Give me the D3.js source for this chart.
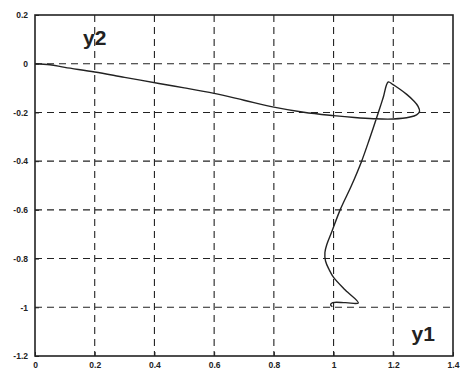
<!DOCTYPE html>
<html><head><meta charset="utf-8">
<script src="https://cdn.jsdelivr.net/npm/d3@7"></script>
<style>html,body{margin:0;padding:0;background:#fff;}svg{display:block;}</style>
</head><body>
<svg id="chart" width="460" height="370"></svg>
<script>
// Trajectory (y1 horizontal, y2 vertical)
const y1Vals = [0, 0.05, 0.1, 0.2, 0.3, 0.42, 0.5, 0.6, 0.7, 0.8, 0.9, 1.0, 1.07, 1.133, 1.2, 1.256, 1.278, 1.288, 1.283, 1.268, 1.245, 1.22, 1.198, 1.183, 1.166, 1.15, 1.12, 1.094, 1.06, 1.022, 0.994, 0.978, 0.971, 0.973, 0.985, 1.0, 1.04, 1.083, 1.04, 0.997, 0.99, 0.996];
const y2Vals = [0, -0.004, -0.015, -0.034, -0.056, -0.082, -0.099, -0.122, -0.15, -0.178, -0.199, -0.213, -0.221, -0.226, -0.227, -0.219, -0.21, -0.196, -0.175, -0.152, -0.126, -0.103, -0.085, -0.075, -0.14, -0.2, -0.31, -0.4, -0.5, -0.6, -0.69, -0.74, -0.775, -0.81, -0.845, -0.877, -0.93, -0.982, -0.981, -0.981, -0.99, -0.998];
const xTicks = [0, 0.2, 0.4, 0.6, 0.8, 1, 1.2, 1.4];
const yTicks = [0.2, 0, -0.2, -0.4, -0.6, -0.8, -1, -1.2];
const xLabel = "y1";
const yLabel = "y2";

const svg = d3.select("#chart");
const L = 35, R = 453, T = 15, B = 356;
const x = d3.scaleLinear().domain([0, 1.4]).range([L, R]);
const y = d3.scaleLinear().domain([-1.2, 0.2]).range([B, T]);

// grid
const grid = svg.append("g").attr("stroke", "#222").attr("stroke-width", 1.1).attr("stroke-dasharray", "7,5");
grid.selectAll(".gx").data(xTicks.slice(1, -1)).enter().append("line")
  .attr("x1", d => x(d)).attr("x2", d => x(d)).attr("y1", T).attr("y2", B);
grid.selectAll(".gy").data(yTicks.slice(1, -1)).enter().append("line")
  .attr("y1", d => y(d)).attr("y2", d => y(d)).attr("x1", L).attr("x2", R);

// axes
const fmt = d => String(d);
const xAxis = svg.append("g").attr("transform", `translate(0,${B})`)
  .call(d3.axisBottom(x).tickValues(xTicks).tickSize(-4).tickPadding(7).tickFormat(fmt));
const yAxis = svg.append("g").attr("transform", `translate(${L},0)`)
  .call(d3.axisLeft(y).tickValues(yTicks).tickSize(-4).tickPadding(7).tickFormat(fmt));
[xAxis, yAxis].forEach(a => {
  a.select(".domain").remove();
  a.selectAll("text").attr("font-family", "Liberation Sans, Arial, sans-serif")
    .attr("font-size", 8.5).attr("font-weight", "bold").attr("fill", "#222");
  a.selectAll("line").attr("stroke", "#222");
});
xAxis.selectAll("text").attr("dy", "0.55em");

// frame
svg.append("rect").attr("x", L).attr("y", T).attr("width", R - L).attr("height", B - T)
  .attr("fill", "none").attr("stroke", "#222").attr("stroke-width", 1.6);

// curve
const pts = y1Vals.map((v, i) => [v, y2Vals[i]]);
svg.append("path").datum(pts)
  .attr("fill", "none").attr("stroke", "#222").attr("stroke-width", 1.4)
  .attr("stroke-linejoin", "round")
  .attr("d", d3.line().x(d => x(d[0])).y(d => y(d[1])).curve(d3.curveCatmullRom.alpha(0.5)));

// labels
svg.append("text").attr("x", x(0.2)).attr("y", y(0.075)).attr("text-anchor", "middle")
  .attr("font-family", "Liberation Sans, Arial, sans-serif").attr("font-size", 21).attr("font-weight", "bold").attr("fill", "#222")
  .text(yLabel);
svg.append("text").attr("x", x(1.3)).attr("y", y(-1.14)).attr("text-anchor", "middle")
  .attr("font-family", "Liberation Sans, Arial, sans-serif").attr("font-size", 21).attr("font-weight", "bold").attr("fill", "#222")
  .text(xLabel);
</script>
</body></html>
